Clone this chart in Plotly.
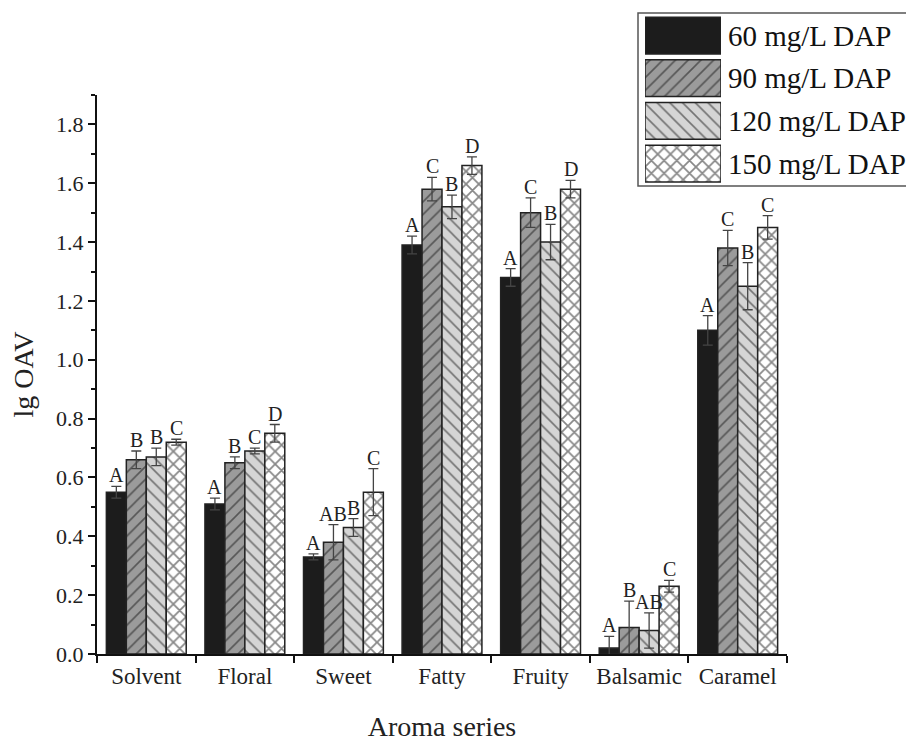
import plotly.graph_objects as go

categories = ["Solvent", "Floral", "Sweet", "Fatty", "Fruity", "Balsamic", "Caramel"]
series_names = ["60 mg/L DAP", "90 mg/L DAP", "120 mg/L DAP", "150 mg/L DAP"]
v60 = [0.55, 0.51, 0.33, 1.39, 1.28, 0.02, 1.10]
v90 = [0.66, 0.65, 0.38, 1.58, 1.50, 0.09, 1.38]
v120 = [0.67, 0.69, 0.43, 1.52, 1.40, 0.08, 1.25]
v150 = [0.72, 0.75, 0.55, 1.66, 1.58, 0.23, 1.45]
e60 = [0.02, 0.02, 0.01, 0.03, 0.03, 0.04, 0.05]
e90 = [0.03, 0.02, 0.06, 0.04, 0.05, 0.09, 0.06]
e120 = [0.03, 0.01, 0.03, 0.04, 0.06, 0.06, 0.08]
e150 = [0.01, 0.03, 0.08, 0.03, 0.03, 0.02, 0.04]
l60 = ["A", "A", "A", "A", "A", "A", "A"]
l90 = ["B", "B", "AB", "C", "C", "B", "C"]
l120 = ["B", "C", "B", "B", "B", "AB", "B"]
l150 = ["C", "D", "C", "D", "D", "C", "C"]

values = [v60, v90, v120, v150]
errors = [e60, e90, e120, e150]
letters = [l60, l90, l120, l150]

bgcolors = ["#1c1c1c", "#9b9b9b", "#d5d5d5", "#ffffff"]
shapes_p = ["", "/", "\\", "x"]
solid_p = [0, 0.18, 0.18, 0.35]
FONT = "Liberation Serif"
OUT = "#222222"

fig = go.Figure()

OFF = 8  # page body margin
W, H = 914 - OFF, 742 - OFF
L, R, T, B = 97 - OFF, 0, 2, 88
pw = W - L - R
ph = H - T - B
def px_x(xr):
    return (xr - OFF - L) / pw
def px_y(yr):
    return (H - B - (yr - OFF)) / ph

x_dom = [0, px_x(787)]
y_dom = [0, px_y(95)]

def make_marker(k):
    marker = dict(color=bgcolors[k], line=dict(color=OUT, width=1.5))
    if shapes_p[k]:
        marker["pattern"] = dict(shape=shapes_p[k], bgcolor=bgcolors[k], fgcolor="#111111",
                                 size=9, solidity=solid_p[k], fillmode="overlay")
    return marker

for k in range(4):
    fig.add_trace(go.Bar(
        x=categories, y=values[k], name=series_names[k], marker=make_marker(k),
        error_y=dict(type="data", array=errors[k], symmetric=True, color="#444444",
                     thickness=1.3, width=5),
        showlegend=False, xaxis="x", yaxis="y"))

barw = 0.81 / 4
for k in range(4):
    for i in range(len(categories)):
        fig.add_annotation(x=i + (k - 1.5) * barw, y=values[k][i] + errors[k][i],
                           xref="x", yref="y", text=letters[k][i], showarrow=False,
                           yanchor="bottom", yshift=-1, borderpad=0,
                           font=dict(family=FONT, size=20, color="#222222"))

# legend drawn as a small bar panel
for k in range(4):
    fig.add_trace(go.Bar(
        y=[series_names[k]], x=[1], orientation="h", marker=make_marker(k), width=0.86,
        showlegend=False, xaxis="x2", yaxis="y2", hoverinfo="skip"))
    fig.add_annotation(x=px_x(726), y=series_names[k], xref="paper", yref="y2",
                       text=series_names[k], showarrow=False, xanchor="left",
                       font=dict(family=FONT, size=29, color="#111111"))

fig.add_shape(type="rect", xref="paper", yref="paper",
              x0=px_x(638), x1=px_x(912), y0=px_y(186), y1=px_y(13),
              line=dict(color="#555555", width=1.5), fillcolor="rgba(0,0,0,0)", layer="below")

fig.update_layout(
    width=W, height=H,
    margin=dict(l=L, r=R, t=T, b=B),
    paper_bgcolor="white", plot_bgcolor="white",
    barmode="group", bargap=0.19, bargroupgap=0,
    font=dict(family=FONT, color="#222222"),
    xaxis=dict(domain=x_dom, anchor="y", type="category", range=[-0.5, 6.5],
               showline=True, linecolor="#111111", linewidth=2,
               ticks="outside", tickson="boundaries", ticklen=7, tickwidth=2, tickcolor="#111111",
               tickfont=dict(family=FONT, size=23, color="#222222"),
               title=dict(text="Aroma series", font=dict(family=FONT, size=28, color="#222222"), standoff=34),
               showgrid=False, zeroline=False, automargin=False),
    yaxis=dict(domain=y_dom, anchor="x", range=[0, 1.9], dtick=0.2, tick0=0,
               tickformat=".1f",
               showline=True, linecolor="#111111", linewidth=2,
               ticks="outside", ticklen=7, tickwidth=1.5, tickcolor="#111111",
               minor=dict(dtick=0.1, ticks="outside", ticklen=4, tickwidth=1.5, tickcolor="#111111"),
               tickfont=dict(family=FONT, size=22, color="#222222"),
               title=dict(text="lg OAV", font=dict(family=FONT, size=28, color="#222222"), standoff=14),
               showgrid=False, zeroline=False, automargin=False),
    xaxis2=dict(domain=[px_x(645), px_x(721)], anchor="y2", range=[0, 1], visible=False,
                fixedrange=True),
    yaxis2=dict(domain=[px_y(184.9), px_y(14.2)], anchor="x2", type="category",
                categoryorder="array", categoryarray=series_names[::-1],
                range=[-0.5, 3.5], visible=False, fixedrange=True),
)

fig.write_html("out.html")
